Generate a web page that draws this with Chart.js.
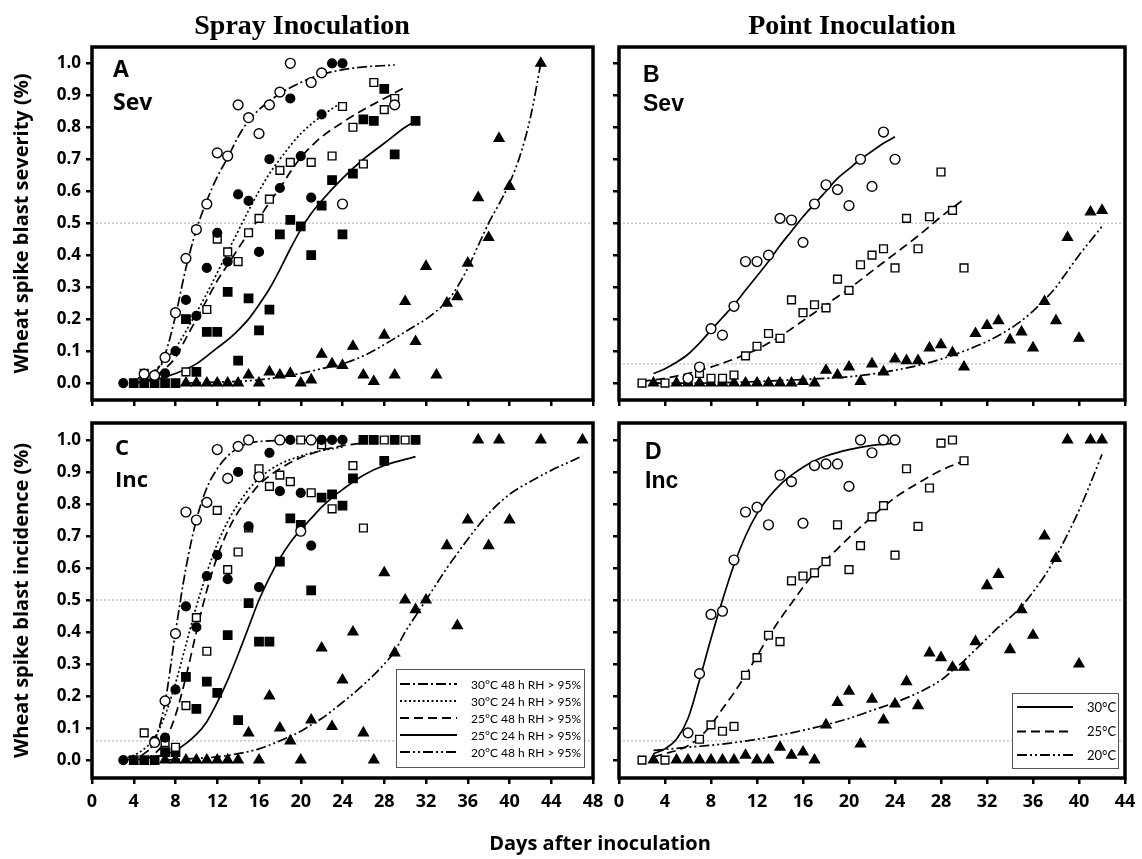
<!DOCTYPE html>
<html>
<head>
<meta charset="utf-8">
<title>Wheat spike blast</title>
<script src="https://cdn.jsdelivr.net/npm/chart.js@4.4.1/dist/chart.umd.min.js"></script>
<style>
  html, body { margin: 0; padding: 0; background: #fff; }
  #page { position: relative; width: 1142px; height: 859px; overflow: hidden; }
  canvas { position: absolute; }
  svg { position: absolute; left: 0; top: 0; }
</style>
</head>
<body>
<div id="page">
  <canvas id="pA" width="605" height="385" style="left:0;top:30px"></canvas>
  <canvas id="pB" width="537" height="385" style="left:605px;top:30px"></canvas>
  <canvas id="pC" width="605" height="420" style="left:0;top:415px"></canvas>
  <canvas id="pD" width="537" height="420" style="left:605px;top:415px"></canvas>

  <svg width="1142" height="859">
    <g font-family="Liberation Serif" font-weight="bold" font-size="28" text-anchor="middle">
      <text x="302" y="34">Spray Inoculation</text>
      <text x="852" y="34">Point Inoculation</text>
    </g>
    <g font-family="Open Sans" font-weight="bold">
      <text x="113" y="77" font-size="23">A</text>
      <text x="113" y="110" font-size="23">Sev</text>
      <text x="115" y="455" font-size="22">C</text>
      <text x="115" y="487" font-size="22">Inc</text>
      <text x="600" y="850" font-size="20" text-anchor="middle">Days after inoculation</text>
    </g>
    <g font-family="Liberation Sans" font-weight="bold" font-size="23">
      <text x="643" y="82">B</text>
      <text x="643" y="111">Sev</text>
      <text x="645" y="459">D</text>
      <text x="645" y="488">Inc</text>
    </g>
    <!-- legend panel C -->
    <rect x="396.5" y="669.5" width="188" height="98" fill="#fff" stroke="#555" stroke-width="1"/>
    <g stroke="#000" stroke-width="1.8">
      <line x1="400" y1="684" x2="457" y2="684" stroke-dasharray="10 3 2 3"/>
      <line x1="400" y1="701" x2="457" y2="701" stroke-dasharray="2 2.5"/>
      <line x1="400" y1="718" x2="457" y2="718" stroke-dasharray="9 5"/>
      <line x1="400" y1="735" x2="457" y2="735"/>
      <line x1="400" y1="752" x2="457" y2="752" stroke-dasharray="10 3 2 3 2 3"/>
    </g>
    <g font-family="Lato" font-size="12">
      <text x="471" y="688.5">30°C 48 h RH &gt; 95%</text>
      <text x="471" y="705.5">30°C 24 h RH &gt; 95%</text>
      <text x="471" y="722.5">25°C 48 h RH &gt; 95%</text>
      <text x="471" y="739.5">25°C 24 h RH &gt; 95%</text>
      <text x="471" y="756.5">20°C 48 h RH &gt; 95%</text>
    </g>
    <!-- legend panel D -->
    <rect x="1012.5" y="693.5" width="106" height="75" fill="#fff" stroke="#555" stroke-width="1"/>
    <g stroke="#000" stroke-width="1.8">
      <line x1="1017" y1="707" x2="1073" y2="707"/>
      <line x1="1017" y1="731.5" x2="1073" y2="731.5" stroke-dasharray="9 5"/>
      <line x1="1017" y1="755" x2="1073" y2="755" stroke-dasharray="10 3 2 3 2 3"/>
    </g>
    <g font-family="Lato" font-size="13">
      <text x="1087" y="711.5">30°C</text>
      <text x="1087" y="736">25°C</text>
      <text x="1087" y="759.5">20°C</text>
    </g>
  </svg>
</div>

<script>
// ---- axes ----
const yTicks = [0, 0.1, 0.2, 0.3, 0.4, 0.5, 0.6, 0.7, 0.8, 0.9, 1.0];
const xTicksSpray = [0, 4, 8, 12, 16, 20, 24, 28, 32, 36, 40, 44, 48];
const xTicksPoint = [0, 4, 8, 12, 16, 20, 24, 28, 32, 36, 40, 44];

// ---- A: spray, severity ----  [day, proportion]
const aOpenCircle = [[5,0.028],[6,0.024],[7,0.08],[8,0.22],[9,0.39],[10,0.48],[11,0.56],[12,0.72],[13,0.71],[14,0.87],[15,0.83],[16,0.78],[17,0.87],[18,0.91],[19,1.0],[21,0.94],[22,0.97],[24,0.56],[29,0.87]];
const aFillCircle = [[3,0],[7,0.03],[8,0.1],[9,0.26],[10,0.21],[11,0.36],[12,0.47],[13,0.38],[14,0.59],[15,0.57],[16,0.41],[17,0.7],[18,0.61],[19,0.89],[20,0.71],[21,0.58],[22,0.84],[23,1.0],[24,1.0]];
const aOpenSquare = [[5,0.03],[9,0.035],[11,0.23],[12,0.45],[13,0.41],[14,0.38],[15,0.47],[16,0.515],[17,0.575],[18,0.665],[19,0.69],[21,0.69],[23,0.71],[24,0.865],[25,0.8],[26,0.685],[27,0.94],[28,0.855],[29,0.89]];
const aFillSquare = [[4,0],[5,0],[6,0],[7,0],[8,0],[9,0.2],[10,0.035],[11,0.16],[12,0.16],[13,0.285],[14,0.07],[15,0.265],[16,0.165],[17,0.23],[18,0.465],[19,0.51],[20,0.49],[21,0.4],[22,0.555],[23,0.635],[24,0.465],[25,0.655],[26,0.825],[27,0.82],[28,0.92],[29,0.715],[31,0.82]];
const aTriangle = [[9,0],[10,0],[11,0],[12,0],[13,0],[14,0],[15,0.025],[16,0],[17,0.035],[18,0.025],[19,0.03],[20,0],[21,0.01],[22,0.09],[23,0.06],[24,0.055],[25,0.115],[26,0.025],[27,0.005],[28,0.15],[29,0.025],[30,0.255],[31,0.13],[32,0.365],[33,0.025],[34,0.25],[35,0.27],[36,0.375],[37,0.58],[38,0.455],[39,0.765],[40,0.615],[43,1.0]];
const aFit30h48 = [[4.5,0],[5,0.01],[6,0.03],[7,0.09],[8,0.21],[9,0.36],[10,0.48],[11,0.57],[12,0.645],[13,0.705],[14,0.77],[15,0.82],[16,0.855],[18,0.905],[20,0.94],[22,0.965],[25,0.985],[29,0.995]];
const aFit30h24 = [[4,0.01],[6,0.04],[8,0.11],[10,0.22],[11,0.28],[12,0.345],[13,0.41],[14,0.475],[15,0.54],[16,0.6],[17,0.655],[18,0.7],[20,0.78],[22,0.835],[24,0.88]];
const aFit25h48 = [[5,0],[6,0.02],[7,0.045],[8,0.08],[9,0.14],[10,0.2],[11,0.26],[12,0.32],[13,0.37],[14,0.42],[15,0.47],[16,0.515],[17,0.565],[18,0.61],[19,0.66],[20,0.705],[21,0.74],[22,0.77],[24,0.815],[26,0.855],[28,0.89],[30,0.925]];
const aFit25h24 = [[4,0],[6,0.01],[8,0.03],[10,0.06],[12,0.11],[13,0.135],[14,0.165],[15,0.2],[16,0.245],[17,0.295],[18,0.355],[19,0.42],[20,0.48],[21,0.53],[22,0.57],[24,0.64],[26,0.7],[28,0.75],[30,0.8],[31,0.82]];
const aFit20h48 = [[9,0],[12,0.003],[16,0.01],[20,0.03],[22,0.045],[24,0.06],[26,0.085],[28,0.12],[30,0.16],[31,0.18],[32,0.2],[33,0.225],[34,0.255],[35,0.3],[36,0.36],[37,0.43],[38,0.5],[39,0.56],[40,0.625],[41,0.71],[42,0.83],[43,1.0]];
const aRefLines = [0.5];

// ---- B: point, severity ----
const bOpenCircle = [[6,0.015],[7,0.05],[8,0.17],[9,0.15],[10,0.24],[11,0.38],[12,0.38],[13,0.4],[14,0.515],[15,0.51],[16,0.44],[17,0.56],[18,0.62],[19,0.605],[20,0.555],[21,0.7],[22,0.615],[23,0.785],[24,0.7]];
const bOpenSquare = [[2,0],[4,0],[6,0.01],[7,0.03],[8,0.015],[9,0.015],[10,0.025],[11,0.085],[12,0.115],[13,0.155],[14,0.14],[15,0.26],[16,0.22],[17,0.245],[18,0.235],[19,0.325],[20,0.29],[21,0.37],[22,0.4],[23,0.42],[24,0.36],[25,0.515],[26,0.42],[27,0.52],[28,0.66],[29,0.54],[30,0.36]];
const bTriangle = [[3,0],[5,0],[6,0],[7,0],[8,0],[9,0],[10,0],[11,0],[12,0],[13,0],[14,0],[15,0],[16,0.005],[17,0],[18,0.04],[19,0.025],[20,0.05],[21,0.005],[22,0.06],[23,0.035],[24,0.075],[25,0.07],[26,0.07],[27,0.11],[28,0.12],[29,0.095],[30,0.05],[31,0.155],[32,0.18],[33,0.195],[34,0.135],[35,0.16],[36,0.11],[37,0.255],[38,0.195],[39,0.455],[40,0.14],[41,0.535],[42,0.54]];
const bFit30 = [[3,0.03],[4,0.045],[5,0.065],[6,0.09],[7,0.125],[8,0.165],[9,0.205],[10,0.245],[11,0.29],[12,0.335],[13,0.38],[14,0.43],[15,0.475],[16,0.52],[17,0.56],[18,0.6],[19,0.64],[20,0.67],[21,0.7],[22,0.725],[23,0.75],[24,0.77]];
const bFit25 = [[2,0.005],[4,0.015],[6,0.03],[8,0.05],[10,0.075],[11,0.09],[12,0.105],[13,0.125],[14,0.145],[15,0.17],[16,0.195],[17,0.22],[18,0.245],[19,0.27],[20,0.295],[22,0.35],[24,0.405],[26,0.46],[28,0.52],[30,0.575]];
const bFit20 = [[3,0],[7,0],[10,0.002],[14,0.008],[18,0.015],[20,0.02],[22,0.028],[24,0.04],[26,0.055],[28,0.075],[30,0.1],[32,0.13],[34,0.17],[35,0.195],[36,0.225],[37,0.26],[38,0.3],[39,0.35],[40,0.4],[41,0.445],[42,0.49]];
const bRefLines = [0.5, 0.06];

// ---- C: spray, incidence ----
const cOpenCircle = [[6,0.055],[7,0.185],[8,0.395],[9,0.775],[10,0.75],[11,0.805],[12,0.97],[13,0.88],[14,0.98],[15,1.0],[16,0.885],[18,1.0],[20,0.715],[21,1.0]];
const cFillCircle = [[3,0],[6,0.06],[7,0.07],[8,0.22],[9,0.48],[10,0.415],[11,0.575],[12,0.64],[13,0.565],[14,0.9],[15,0.73],[16,0.54],[17,0.96],[18,0.84],[19,1.0],[20,0.835],[21,0.67],[22,1.0],[23,1.0],[24,1.0]];
const cOpenSquare = [[5,0.085],[7,0.055],[8,0.04],[9,0.17],[10,0.445],[11,0.34],[12,0.78],[13,0.595],[14,0.65],[15,0.725],[16,0.91],[17,0.855],[18,0.89],[19,0.87],[20,1.0],[21,0.835],[22,0.985],[23,0.785],[25,0.92],[26,0.725],[28,1.0],[30,1.0]];
const cFillSquare = [[4,0],[5,0],[6,0],[7,0.025],[8,0.025],[9,0.26],[10,0.16],[11,0.245],[12,0.21],[13,0.39],[14,0.125],[15,0.49],[16,0.37],[17,0.37],[18,0.62],[19,0.755],[20,0.735],[21,0.53],[22,0.82],[23,0.83],[24,0.795],[25,0.88],[26,1.0],[27,1.0],[28,0.935],[29,1.0],[31,1.0]];
const cTriangle = [[7,0],[8,0],[9,0],[10,0],[11,0],[12,0],[13,0],[14,0],[15,0.085],[16,0],[17,0.2],[18,0.1],[19,0.06],[20,0],[21,0.125],[22,0.35],[23,0.105],[24,0.25],[25,0.4],[26,0.085],[27,0],[28,0.585],[29,0.335],[30,0.5],[31,0.47],[32,0.5],[34,0.67],[35,0.42],[36,0.75],[37,1.0],[38,0.67],[39,1.0],[40,0.75],[43,1.0],[47,1.0]];
const cFit30h48 = [[3,0],[4,0.005],[5,0.02],[6,0.06],[7,0.18],[8,0.4],[9,0.6],[10,0.75],[11,0.85],[12,0.91],[13,0.95],[14,0.975],[15,0.99],[17,0.997],[20,1.0],[24,1.0]];
const cFit30h24 = [[3,0.005],[4,0.015],[5,0.035],[6,0.07],[7,0.14],[8,0.24],[9,0.36],[10,0.48],[11,0.585],[12,0.675],[13,0.745],[14,0.8],[15,0.845],[16,0.88],[17,0.905],[18,0.925],[20,0.95],[22,0.967],[24,0.978]];
const cFit25h48 = [[5,0],[6,0.02],[7,0.06],[8,0.14],[9,0.26],[10,0.4],[11,0.53],[12,0.635],[13,0.715],[14,0.775],[15,0.82],[16,0.86],[18,0.91],[20,0.945],[22,0.967],[24,0.982],[26,0.99]];
const cFit25h24 = [[4,0],[6,0.01],[8,0.03],[10,0.08],[11,0.12],[12,0.18],[13,0.25],[14,0.33],[15,0.415],[16,0.5],[17,0.57],[18,0.63],[19,0.68],[20,0.72],[21,0.755],[22,0.79],[23,0.82],[24,0.845],[26,0.89],[28,0.92],[31,0.948]];
const cFit20h48 = [[7,0],[10,0.005],[12,0.01],[14,0.02],[16,0.035],[18,0.06],[20,0.09],[21,0.11],[22,0.13],[24,0.18],[26,0.235],[28,0.3],[29,0.34],[30,0.4],[31,0.45],[32,0.5],[33,0.55],[34,0.6],[35,0.645],[36,0.69],[38,0.77],[40,0.83],[42,0.87],[44,0.905],[46,0.935],[47,0.95]];
const cRefLines = [0.5, 0.06];

// ---- D: point, incidence ----
const dOpenCircle = [[6,0.085],[7,0.27],[8,0.455],[9,0.465],[10,0.625],[11,0.775],[12,0.79],[13,0.735],[14,0.89],[15,0.87],[16,0.74],[17,0.92],[18,0.925],[19,0.925],[20,0.855],[21,1.0],[22,0.96],[23,1.0],[24,1.0]];
const dOpenSquare = [[2,0],[4,0],[7,0.065],[8,0.11],[9,0.09],[10,0.105],[11,0.265],[12,0.32],[13,0.39],[14,0.37],[15,0.56],[16,0.575],[17,0.585],[18,0.62],[19,0.735],[20,0.595],[21,0.67],[22,0.76],[23,0.795],[24,0.64],[25,0.91],[26,0.73],[27,0.85],[28,0.99],[29,1.0],[30,0.935]];
const dTriangle = [[3,0],[5,0],[6,0],[7,0],[8,0],[9,0],[10,0],[11,0.015],[12,0],[13,0],[14,0.04],[15,0.015],[16,0.025],[17,0],[18,0.11],[19,0.18],[20,0.215],[21,0.05],[22,0.19],[23,0.125],[24,0.175],[25,0.245],[26,0.17],[27,0.335],[28,0.32],[29,0.29],[30,0.29],[31,0.37],[32,0.545],[33,0.58],[34,0.345],[35,0.47],[36,0.39],[37,0.7],[38,0.63],[39,1.0],[40,0.3],[41,1.0],[42,1.0]];
const dFit30 = [[3,0.02],[4,0.035],[5,0.065],[6,0.13],[7,0.25],[8,0.38],[9,0.5],[10,0.61],[11,0.7],[12,0.77],[13,0.82],[14,0.86],[15,0.89],[16,0.915],[17,0.935],[18,0.95],[20,0.97],[22,0.983],[24,0.99]];
const dFit25 = [[3,0.01],[4,0.02],[5,0.03],[6,0.045],[7,0.07],[8,0.11],[9,0.16],[10,0.21],[11,0.265],[12,0.325],[13,0.385],[14,0.44],[15,0.49],[16,0.54],[17,0.585],[18,0.625],[19,0.66],[20,0.695],[22,0.76],[24,0.82],[26,0.865],[28,0.905],[30,0.935]];
const dFit20 = [[3,0.03],[6,0.04],[9,0.05],[12,0.065],[15,0.085],[18,0.11],[20,0.13],[22,0.155],[24,0.18],[26,0.21],[28,0.25],[29,0.28],[30,0.31],[31,0.345],[32,0.38],[33,0.415],[34,0.445],[35,0.48],[36,0.525],[37,0.575],[38,0.635],[39,0.705],[40,0.78],[41,0.865],[42,0.955]];
const dRefLines = [0.5, 0.06];

// line styles
const DASH_DOT = [10, 3, 2, 3];
const DOTTED = [2, 2.5];
const DASHED = [9, 5];
const SOLID = [];
const DASH_DOT_DOT = [10, 3, 2, 3, 2, 3];

const toXY = pts => pts.map(p => ({ x: p[0], y: p[1] }));

function marker(pts, style, filled, r) {
  return {
    data: toXY(pts), showLine: false,
    pointStyle: style, pointRadius: r,
    pointBackgroundColor: filled ? '#000' : '#fff',
    pointBorderColor: '#000', pointBorderWidth: 1.4
  };
}

function curve(pts, dash) {
  return {
    data: toXY(pts), showLine: true, pointRadius: 0,
    borderColor: '#000', borderWidth: 1.7, borderDash: dash,
    cubicInterpolationMode: 'monotone', fill: false
  };
}

function refLine(v, xMax) {
  return {
    data: [{ x: 0, y: v }, { x: xMax, y: v }], showLine: true, pointRadius: 0,
    borderColor: '#a8a8a8', borderWidth: 1, borderDash: [2, 2]
  };
}

// thick box around each plot
const frame = {
  id: 'frame',
  afterDraw(chart) {
    const a = chart.chartArea, ctx = chart.ctx;
    ctx.save();
    ctx.lineWidth = 3.5;
    ctx.strokeStyle = '#000';
    ctx.strokeRect(a.left, a.top, a.right - a.left, a.bottom - a.top);
    ctx.restore();
  }
};

function panel(id, o) {
  const tickGrid = { drawOnChartArea: false, drawTicks: true, tickLength: 6, lineWidth: 2.5, color: '#000' };
  new Chart(document.getElementById(id), {
    type: 'scatter',
    data: { datasets: o.datasets },
    options: {
      responsive: false, animation: false, events: [], devicePixelRatio: 1,
      layout: { padding: o.pad },
      plugins: { legend: { display: false }, tooltip: { enabled: false } },
      scales: {
        x: {
          type: 'linear', min: 0, max: o.xMax,
          afterBuildTicks: s => { s.ticks = o.xTicks.map(v => ({ value: v })); },
          afterFit: s => { s.height = o.xH; s.paddingLeft = 0; s.paddingRight = 0; },
          grid: tickGrid, border: { display: false },
          ticks: {
            display: o.xLabels, autoSkip: false, maxRotation: 0, padding: 7, color: '#000',
            font: { family: 'Open Sans', weight: 'bold', size: 18 }
          }
        },
        y: {
          type: 'linear', min: o.yMin, max: o.yMax,
          afterBuildTicks: s => { s.ticks = yTicks.map(v => ({ value: v })); },
          afterFit: s => { s.width = o.yW; s.paddingTop = 0; s.paddingBottom = 0; },
          grid: tickGrid, border: { display: false },
          ticks: {
            display: o.yLabels, padding: 5, color: '#000',
            font: { family: 'Open Sans', weight: 'bold', size: 17 },
            callback: v => v.toFixed(1)
          },
          title: {
            display: !!o.yTitle, text: o.yTitle || '', color: '#000',
            font: { family: 'Open Sans', weight: 'bold', size: 20 },
            padding: { top: 10, bottom: 0 }
          }
        }
      }
    },
    plugins: [frame]
  });
}

const R = { oc: 4.9, fc: 4.4, os: 5.5, fs: 5.9, tr: 5.7 };

panel('pA', {
  pad: { left: 0, top: 17, right: 12, bottom: 0 }, yW: 92, xH: 15,
  xMax: 48, xTicks: xTicksSpray, xLabels: false, yLabels: true,
  yMin: -0.053, yMax: 1.051, yTitle: 'Wheat spike blast severity (%)',
  datasets: [
    marker(aOpenCircle, 'circle', false, R.oc),
    marker(aFillCircle, 'circle', true, R.fc),
    marker(aOpenSquare, 'rect', false, R.os),
    marker(aFillSquare, 'rect', true, R.fs),
    marker(aTriangle, 'triangle', true, R.tr),
    curve(aFit30h48, DASH_DOT),
    curve(aFit30h24, DOTTED),
    curve(aFit25h48, DASHED),
    curve(aFit25h24, SOLID),
    curve(aFit20h48, DASH_DOT_DOT),
    ...aRefLines.map(v => refLine(v, 48))
  ]
});

panel('pB', {
  pad: { left: 0, top: 17, right: 17, bottom: 0 }, yW: 14, xH: 15,
  xMax: 44, xTicks: xTicksPoint, xLabels: false, yLabels: false,
  yMin: -0.053, yMax: 1.051,
  datasets: [
    marker(bOpenCircle, 'circle', false, R.oc),
    marker(bOpenSquare, 'rect', false, R.os),
    marker(bTriangle, 'triangle', true, R.tr),
    curve(bFit30, SOLID),
    curve(bFit25, DASHED),
    curve(bFit20, DASH_DOT_DOT),
    ...bRefLines.map(v => refLine(v, 44))
  ]
});

panel('pC', {
  pad: { left: 0, top: 8, right: 12, bottom: 0 }, yW: 92, xH: 57,
  xMax: 48, xTicks: xTicksSpray, xLabels: true, yLabels: true,
  yMin: -0.056, yMax: 1.053, yTitle: 'Wheat spike blast incidence (%)',
  datasets: [
    marker(cOpenCircle, 'circle', false, R.oc),
    marker(cFillCircle, 'circle', true, R.fc),
    marker(cOpenSquare, 'rect', false, R.os),
    marker(cFillSquare, 'rect', true, R.fs),
    marker(cTriangle, 'triangle', true, R.tr),
    curve(cFit30h48, DASH_DOT),
    curve(cFit30h24, DOTTED),
    curve(cFit25h48, DASHED),
    curve(cFit25h24, SOLID),
    curve(cFit20h48, DASH_DOT_DOT),
    ...cRefLines.map(v => refLine(v, 48))
  ]
});

panel('pD', {
  pad: { left: 0, top: 8, right: 17, bottom: 0 }, yW: 14, xH: 57,
  xMax: 44, xTicks: xTicksPoint, xLabels: true, yLabels: false,
  yMin: -0.056, yMax: 1.053,
  datasets: [
    marker(dOpenCircle, 'circle', false, R.oc),
    marker(dOpenSquare, 'rect', false, R.os),
    marker(dTriangle, 'triangle', true, R.tr),
    curve(dFit30, SOLID),
    curve(dFit25, DASHED),
    curve(dFit20, DASH_DOT_DOT),
    ...dRefLines.map(v => refLine(v, 44))
  ]
});
</script>
</body>
</html>
